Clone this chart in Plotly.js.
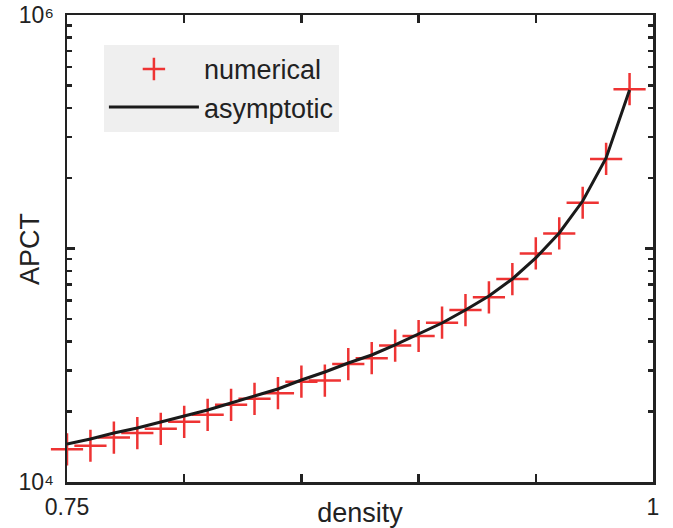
<!DOCTYPE html>
<html>
<head>
<meta charset="utf-8">
<script src="https://cdn.plot.ly/plotly-3.0.1.min.js"></script>
<style>html,body{margin:0;padding:0;background:#fff;}#chart{width:673px;height:528px;}</style>
</head>
<body>
<div id="chart"></div>
<script>
const density = [0.75,0.76,0.77,0.78,0.79,0.80,0.81,0.82,0.83,0.84,0.85,0.86,0.87,0.88,0.89,0.90,0.91,0.92,0.93,0.94,0.95,0.96,0.97,0.98,0.99];
const numerical = [13800,14300,15500,16200,16900,18100,19400,21400,22700,24000,26900,27200,32000,33900,38400,42200,48100,54500,61800,74000,95300,116000,157000,242000,481000];
const asymptotic = [14550,15280,16210,17030,18070,19180,20340,21800,23350,25020,27340,29590,32330,34990,38620,43040,47970,54530,62610,74040,91070,116500,159700,244100,477300];
const xTickVals = [0.75,0.80,0.85,0.90,0.95,1.0];
const xTickText = ['0.75','','','','','1'];
const yTickVals = [1e4,1e5,1e6];
const yTickText = ['10\u2074','','10\u2076'];
const yMinorVals = [2e4,3e4,4e4,5e4,6e4,7e4,8e4,9e4,2e5,3e5,4e5,5e5,6e5,7e5,8e5,9e5];

const fam = '"Liberation Sans", Arial, sans-serif';
const tickFont = {family:fam, color:'#222', size:23};

const traces = [
  {x:density, y:numerical, name:'numerical', type:'scatter', mode:'markers', cliponaxis:false,
   marker:{symbol:'cross-thin', size:23, color:'#ee3333', line:{width:2.5, color:'#ee3333'}}},
  {x:density, y:asymptotic, name:'asymptotic', type:'scatter', mode:'lines', cliponaxis:false,
   line:{color:'#1a1a1a', width:3}}
];

const axisCommon = {showline:true, linecolor:'#222', linewidth:2.5, mirror:'ticks', ticks:'inside',
  tickcolor:'#222', tickwidth:2.5, showgrid:false, zeroline:false, tickfont:tickFont, ticklabeloverflow:'allow'};

const layout = {
  width:673, height:528,
  margin:{l:67, r:20, t:15, b:46},
  paper_bgcolor:'#fff', plot_bgcolor:'#fff',
  showlegend:true,
  legend:{x:0.063, y:0.936, xanchor:'left', yanchor:'top', bgcolor:'#efefef',
    font:{family:fam, color:'#222', size:27}, borderwidth:0, tracegroupgap:0, itemwidth:90},
  xaxis:Object.assign({}, axisCommon, {range:[0.75,1], tickmode:'array', tickvals:xTickVals, ticktext:xTickText,
    ticklen:8, ticklabelstandoff:3, title:{text:'density', font:{family:fam, color:'#222', size:27}, standoff:0}}),
  yaxis:Object.assign({}, axisCommon, {type:'log', range:[4,6], tickmode:'array', tickvals:yTickVals, ticktext:yTickText,
    ticklen:8, ticklabelstandoff:6, minor:{tickmode:'array', tickvals:yMinorVals, ticks:'inside', ticklen:5, tickwidth:2.5, tickcolor:'#222', showgrid:false}}),
  annotations:[
    {text:'APCT', xref:'paper', yref:'paper', x:-0.062, y:0.498, xanchor:'center', yanchor:'middle',
     textangle:-90, showarrow:false, font:{family:fam, color:'#222', size:27}}
  ]
};

Plotly.newPlot('chart', traces, layout, {staticPlot:true});
</script>
</body>
</html>
